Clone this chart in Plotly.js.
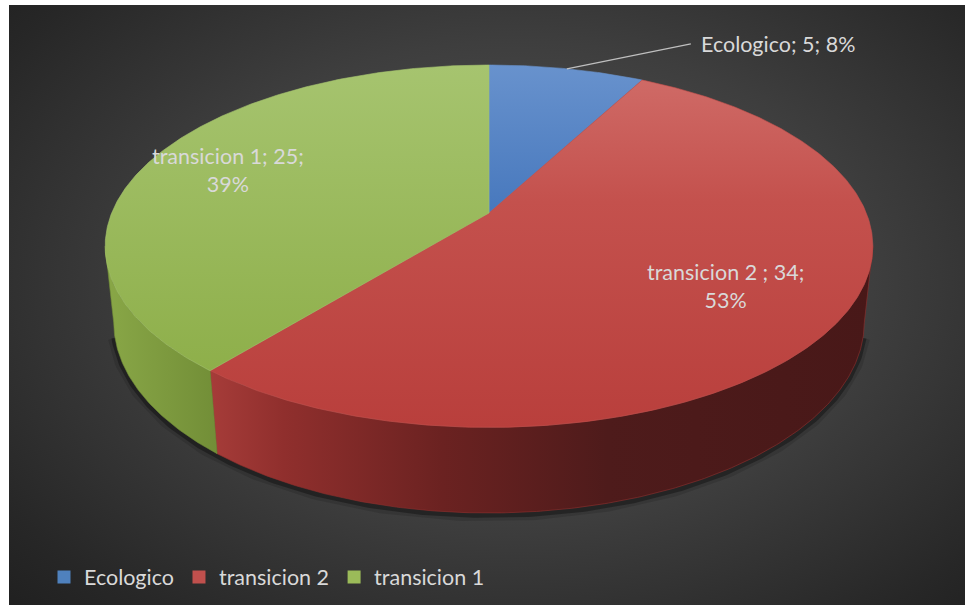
<!DOCTYPE html>
<html>
<head>
<meta charset="utf-8">
<script src="https://cdn.plot.ly/plotly-3.0.1.min.js"></script>
<style>
  html, body { margin: 0; padding: 0; background: #ffffff; }
  #wrap { position: relative; width: 965px; height: 605px; overflow: hidden; }
  #bg { position: absolute; left: 9px; top: 5px; width: 956px; height: 600px;
        background: radial-gradient(ellipse 75% 80% at 53% 46%, #585858 0%, #3e3e3e 50%, #272727 85%, #1f1f1f 100%); }
  #chart { position: absolute; left: 0; top: 0; width: 965px; height: 605px; }
</style>
</head>
<body>
<div id="wrap"><div id="bg"></div><div id="chart"></div></div>
<script>
// ---- data ----
const categories = ['Ecologico', 'transicion 2', 'transicion 1'];
const values = [5, 34, 25];

// ---- styles ----
const legendColors = ['#4f81bd', '#c0504d', '#9bbb59'];
// vertical gradients: 0 = bottom of the face, 1 = top of the face
const topScales = [
  [[0, '#4778bd'], [1, '#6892cd']],
  [[0, '#b93f3c'], [0.65, '#c4514d'], [1, '#cf6a66']],
  [[0, '#8eaf4a'], [1, '#a6c46f']]
];
const sideScales = [
  [[0, '#3f6aa0'], [1, '#2c4a70']],
  [[0, '#a63c39'], [0.11, '#902f2d'], [0.35, '#6b2221'], [0.6, '#4e1b1b'], [1, '#481818']],
  [[0, '#89a747'], [1, '#728e37']]
];
const labelRadius = [1.0, 0.70, 0.77];
const textColor = '#d9d9d9';
const FONT = 'Lato, "Open Sans", sans-serif';
const FSIZE = 21.5;

// ---- 3D view (pixel space) ----
const VIEW = { cx: 489, cy: 213, F: 1824, D: 4.834, tilt: 27.65, thick: 0.2289 };
function project(thetaDeg, r, h) {
  const t = thetaDeg * Math.PI / 180, a = VIEW.tilt * Math.PI / 180;
  const x = r * Math.sin(t), z = r * Math.cos(t);
  const yp = h * Math.cos(a) + z * Math.sin(a);
  const zp = VIEW.D + z * Math.cos(a) - h * Math.sin(a);
  return [VIEW.cx + VIEW.F * x / zp, VIEW.cy - VIEW.F * yp / zp];
}
function arc(t0, t1, r, h) {
  const pts = [];
  const n = Math.max(2, Math.ceil(Math.abs(t1 - t0) / 0.5));
  for (let i = 0; i <= n; i++) pts.push(project(t0 + (t1 - t0) * i / n, r, h));
  return pts;
}

const total = values.reduce((s, v) => s + v, 0);
const starts = [], ends = [];
let acc = 0;
values.forEach(v => { starts.push(acc / total * 360); acc += v; ends.push(acc / total * 360); });

const thetaS = Math.acos(-Math.cos(VIEW.tilt * Math.PI / 180) / VIEW.D) * 180 / Math.PI;
const visLo = thetaS, visHi = 360 - thetaS;

const traces = [];

// soft shadow under the visible rim
[[14, 'rgba(0,0,0,0.12)'], [7, 'rgba(0,0,0,0.33)']].forEach(([w, c]) => {
  const pts = arc(visLo + 4, visHi - 4, 1.0, -VIEW.thick - 0.004);
  traces.push({ type: 'scatter', mode: 'lines', x: pts.map(p => p[0]), y: pts.map(p => p[1]),
    line: { color: c, width: w }, hoverinfo: 'skip', showlegend: false });
});

// sides
values.forEach((v, i) => {
  const s0 = Math.max(starts[i], visLo), s1 = Math.min(ends[i], visHi);
  if (s1 <= s0) return;
  const pts = arc(s0, s1, 1, 0).concat(arc(s1, s0, 1, -VIEW.thick));
  pts.push(pts[0]);
  traces.push({ type: 'scatter', mode: 'lines', x: pts.map(p => p[0]), y: pts.map(p => p[1]),
    fill: 'toself', line: { width: 0.6, color: sideScales[i][1][1] },
    fillgradient: { type: 'horizontal', colorscale: sideScales[i] },
    hoverinfo: 'skip', showlegend: false });
});

// tops
values.forEach((v, i) => {
  const c = project(0, 0, 0);
  const pts = [c].concat(arc(starts[i], ends[i], 1, 0));
  pts.push(c);
  traces.push({ type: 'scatter', mode: 'lines', x: pts.map(p => p[0]), y: pts.map(p => p[1]),
    fill: 'toself', line: { width: 0.6, color: topScales[i][1][1] },
    fillgradient: { type: 'vertical', colorscale: topScales[i] },
    hoverinfo: 'skip', showlegend: false });
});

// legend entries
categories.forEach((name, i) => {
  traces.push({ type: 'scatter', mode: 'markers', x: [null], y: [null], name: name,
    marker: { symbol: 'square', size: 13, color: legendColors[i] }, hoverinfo: 'skip' });
});

// labels
const annotations = [];
values.forEach((v, i) => {
  const pct = Math.round(v / total * 100) + '%';
  const mid = (starts[i] + ends[i]) / 2;
  if (i === 0) {
    const p = project(mid, 1, 0);
    annotations.push({ x: p[0], y: p[1], xref: 'x', yref: 'y', showarrow: true, arrowhead: 0,
      arrowwidth: 1.3, arrowcolor: '#bfbfbf', ax: 124, ay: -25, xanchor: 'left', yanchor: 'middle',
      borderpad: 9, text: categories[i] + '; ' + v + '; ' + pct,
      font: { family: FONT, size: FSIZE, color: textColor } });
  } else {
    const p = project(mid, labelRadius[i], 0);
    const sep = i === 1 ? ' ; ' : '; ';
    annotations.push({ x: p[0], y: p[1], xref: 'x', yref: 'y', showarrow: false,
      xanchor: 'center', yanchor: 'middle', align: 'center',
      text: categories[i] + sep + v + ';<br>' + pct,
      font: { family: FONT, size: FSIZE, color: textColor } });
  }
});

const layout = {
  width: 965, height: 605,
  margin: { l: 0, r: 0, t: 0, b: 0 },
  paper_bgcolor: 'rgba(0,0,0,0)', plot_bgcolor: 'rgba(0,0,0,0)',
  xaxis: { range: [0, 965], visible: false, fixedrange: true },
  yaxis: { range: [605, 0], visible: false, fixedrange: true },
  showlegend: true,
  legend: { orientation: 'h', x: 44 / 965, xanchor: 'left', y: 1 - 577 / 605, yanchor: 'middle',
    font: { family: FONT, size: FSIZE, color: textColor }, bgcolor: 'rgba(0,0,0,0)' },
  annotations: annotations,
  font: { family: FONT }
};

Plotly.newPlot('chart', traces, layout, { displayModeBar: false, staticPlot: true });
</script>
</body>
</html>
